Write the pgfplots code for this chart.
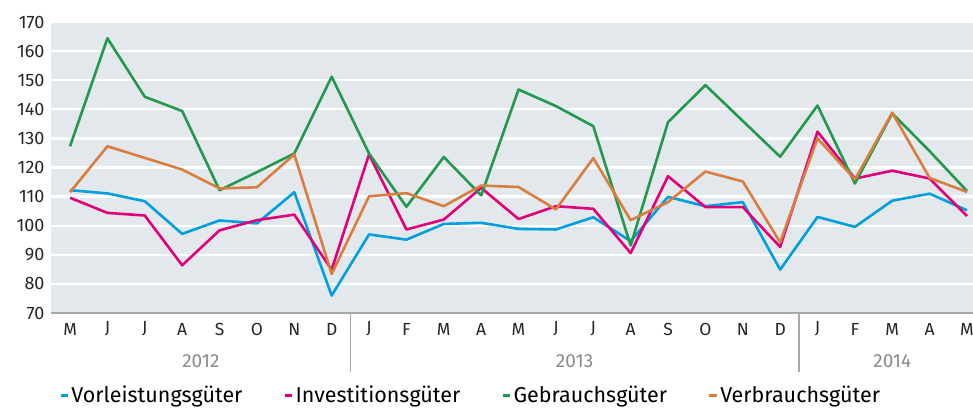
\documentclass[border=0pt]{standalone}
\usepackage{fontspec}
\setmainfont{Fira Sans}
\usepackage{pgfplots}
\usepackage{pgfplotstable}
\pgfplotsset{compat=1.18}
\definecolor{cblue}{HTML}{009FDF}
\definecolor{cpink}{HTML}{E2007A}
\definecolor{cgreen}{HTML}{22994C}
\definecolor{corange}{HTML}{D97E3F}
\definecolor{bgc}{HTML}{E3E8EC}
\definecolor{axc}{HTML}{A8A8A8}
\definecolor{yearc}{HTML}{8A8A8A}
\pgfplotstableread{
i blue pink green orange
0 112.2 109.6 127.3 111.5
1 111.1 104.4 164.4 127.3
2 108.4 103.5 144.3 123.3
3 97.2 86.4 139.4 119.3
4 101.8 98.4 112.2 112.8
5 100.8 101.9 118.4 113.2
6 111.5 103.8 124.8 124.5
7 76.0 84.9 151.2 83.4
8 97.0 124.5 124.8 110.1
9 95.2 98.7 106.5 111.2
10 100.6 102.1 123.6 106.7
11 101.0 113.0 110.4 113.8
12 98.9 102.3 146.8 113.3
13 98.7 106.7 141.1 105.6
14 102.9 105.8 134.2 123.2
15 94.7 90.6 93.2 101.9
16 109.9 117.0 135.6 108.1
17 106.7 106.4 148.3 118.6
18 108.1 106.4 136.0 115.2
19 84.9 92.7 123.7 94.3
20 103.0 132.3 141.3 130.0
21 99.6 116.2 114.5 115.9
22 108.6 118.9 138.6 138.8
23 111.0 116.2 125.6 116.4
24 105.3 103.3 111.9 111.6
}\datatable
\begin{document}
\begin{tikzpicture}
\begin{axis}[
  at={(0,0)}, anchor=south west,
  scale only axis, width=922bp, height=291bp,
  xmin=-0.51, xmax=24.16, ymin=70, ymax=170,
  clip=false,
  /pgf/number format/assume math mode=true,
  axis background/.style={fill=bgc},
  axis line style={draw=none},
  ytick={70,80,...,170},
  xtick={0,...,24},
  xticklabels={M,J,J,A,S,O,N,D,J,F,M,A,M,J,J,A,S,O,N,D,J,F,M,A,M},
  major tick length=0pt,
  ymajorgrids,
  grid style={white, line width=2.4bp},
  yticklabel style={font=\fontsize{18bp}{21bp}\selectfont, text=black!85, anchor=east, xshift=-3bp},
  xticklabel style={font=\fontsize{17.5bp}{20bp}\selectfont, text=black!85, anchor=center, yshift=-16bp},
  legend style={at={(axis description cs:0.0055,-0.283)}, anchor=west, draw=none, fill=none,
    font=\fontsize{21.5bp}{24bp}\selectfont, legend columns=4,
    /tikz/every even column/.append style={column sep=39bp},
    /tikz/every odd column/.append style={column sep=0bp},
    nodes={inner xsep=2bp, inner ysep=0bp}},
  legend image code/.code={\draw[line width=2.6bp] (0bp,0bp) -- (7.5bp,0bp);},
  every axis plot/.append style={line width=2.6bp, line join=round},
]
\addplot[cblue] table[x=i,y=blue] {\datatable};
\addlegendentry{Vorleistungsgüter}
\addplot[cpink] table[x=i,y=pink] {\datatable};
\addlegendentry{Investitionsgüter}
\addplot[cgreen] table[x=i,y=green] {\datatable};
\addlegendentry{Gebrauchsgüter}
\addplot[corange] table[x=i,y=orange] {\datatable};
\addlegendentry{Verbrauchsgüter}
\draw[axc, line width=2.6bp] (axis cs:-0.51,70) -- (axis cs:24.16,70);
\draw[axc, line width=1.6bp] (axis cs:7.5,70) -- (axis cs:7.5,49.7);
\draw[axc, line width=1.6bp] (axis cs:19.5,70) -- (axis cs:19.5,49.7);
\node[text=yearc, font=\fontsize{19bp}{22bp}\selectfont] at (axis cs:3.5,53.5) {2012};
\node[text=yearc, font=\fontsize{19bp}{22bp}\selectfont] at (axis cs:13.5,53.5) {2013};
\node[text=yearc, font=\fontsize{19bp}{22bp}\selectfont] at (axis cs:22,53.5) {2014};
\end{axis}
\pgfresetboundingbox
\useasboundingbox (-51bp,-96bp) rectangle (922bp,313bp);
\end{tikzpicture}
\end{document}
